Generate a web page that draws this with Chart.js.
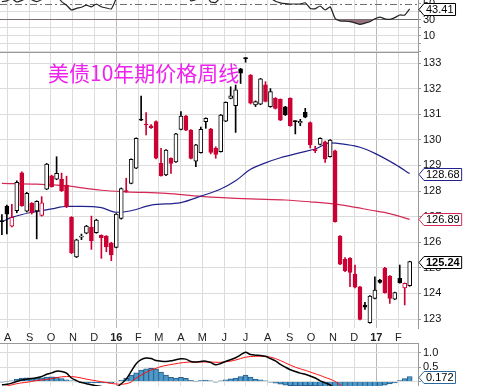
<!DOCTYPE html>
<html>
<head>
<meta charset="utf-8">
<script src="https://cdn.jsdelivr.net/npm/chart.js@4.4.1/dist/chart.umd.min.js"></script>
<style>
  body { margin: 0; background: #fff; }
  #wrap { position: relative; width: 499px; height: 386px; overflow: hidden; }
  canvas { position: absolute; left: 0; }
  #title { position: absolute; left: 48px; top: 62px; font-size: 21px; font-family: 'Noto Sans CJK SC', sans-serif; line-height: 1; color: #ee22ee; white-space: nowrap; }
</style>
</head>
<body>
<div id="wrap">
  <canvas id="rsi" width="499" height="52" style="top:0"></canvas>
  <canvas id="main" width="499" height="291" style="top:52px"></canvas>
  <canvas id="macd" width="499" height="43" style="top:343px"></canvas>
  <div id="title">美债10年期价格周线</div>
</div>
<script>
// weekly candles, first week ends 2015-07-24
const open = [
  126.85, 127.41, 126.63, 127.23, 128.71, 127.21, 127.52, 127.22, 127.05, 128.07,
  128.59, 128.46, 128.46, 128.23, 126.97, 125.43, 126.20, 126.35, 126.58, 126.37,
  126.27, 126.24, 125.96, 125.80, 126.93, 128.02, 128.30, 128.89, 130.79, 130.60,
  130.55, 130.71, 129.08, 128.63, 129.28, 129.14, 130.41, 130.93, 130.38, 129.17,
  129.50, 130.71, 130.42, 129.67, 129.54, 130.73, 131.62, 131.33, 132.77, 133.19,
  132.53, 131.36, 131.39, 132.15, 131.29, 131.62, 131.58, 131.29, 131.62, 130.73,
  130.66, 131.07, 130.67, 129.62, 129.82, 129.92, 129.34, 129.57, 126.24, 125.33,
  125.37, 124.76, 124.26, 123.55, 122.86, 123.81, 124.52, 124.98, 124.68, 123.78,
  124.59, 124.22, 124.30
];
const high = [
  127.08, 127.45, 127.48, 128.40, 128.75, 127.95, 127.55, 127.62, 127.78, 129.08,
  128.62, 129.34, 128.70, 128.58, 127.00, 126.12, 126.32, 126.66, 127.02, 126.90,
  126.29, 126.26, 126.00, 127.12, 128.12, 128.50, 129.26, 130.08, 131.71, 131.06,
  130.60, 130.74, 129.67, 129.62, 129.30, 130.25, 131.10, 130.96, 130.40, 129.82,
  130.50, 130.86, 130.45, 129.73, 130.99, 131.48, 132.07, 132.14, 132.79, 133.21,
  132.55, 131.52, 132.40, 132.27, 132.00, 131.65, 131.60, 131.31, 131.64, 130.75,
  130.80, 131.23, 130.70, 129.75, 130.08, 129.95, 130.01, 129.60, 126.26, 125.40,
  125.40, 125.11, 124.28, 123.65, 123.92, 124.65, 124.55, 125.02, 124.70, 124.05,
  125.11, 124.41, 125.26
];
const low = [
  126.30, 126.32, 126.60, 127.15, 127.40, 127.18, 127.10, 126.13, 127.02, 128.05,
  128.15, 128.44, 127.98, 127.35, 125.55, 125.40, 126.10, 126.33, 125.72, 126.35,
  125.37, 125.63, 125.28, 125.78, 126.90, 127.95, 128.28, 128.87, 130.75, 130.19,
  130.45, 129.25, 128.58, 128.60, 128.69, 129.12, 130.39, 130.36, 129.25, 128.95,
  129.48, 130.45, 129.45, 129.28, 129.52, 130.71, 131.60, 130.29, 132.20, 133.03,
  131.40, 131.30, 131.37, 131.48, 131.27, 131.20, 130.75, 130.95, 130.53, 130.23,
  130.55, 130.86, 129.68, 129.50, 129.80, 129.12, 129.32, 126.78, 125.12, 124.85,
  124.26, 124.22, 122.97, 123.38, 122.84, 123.79, 124.40, 124.01, 123.61, 123.76,
  124.40, 123.55, 124.28
];
const close = [
  126.80, 127.10, 126.97, 128.34, 127.43, 127.91, 127.15, 127.60, 127.54, 129.05,
  128.17, 128.69, 128.01, 127.39, 125.59, 126.09, 126.22, 126.63, 126.06, 126.87,
  126.18, 125.82, 125.50, 127.10, 128.10, 127.98, 129.24, 130.06, 130.77, 130.58,
  130.47, 129.28, 128.60, 129.60, 129.08, 130.23, 130.93, 130.38, 129.27, 129.80,
  130.41, 130.84, 129.51, 129.43, 130.97, 131.46, 131.72, 131.95, 132.60, 133.17,
  131.43, 131.49, 132.38, 131.50, 131.88, 131.23, 130.77, 130.97, 130.55, 130.71,
  130.72, 130.88, 129.80, 129.58, 130.06, 129.25, 129.99, 126.80, 125.14, 124.89,
  124.82, 124.24, 122.99, 123.46, 123.90, 124.13, 124.43, 124.03, 123.81, 124.03,
  124.42, 124.39, 125.24
];

// moving averages (week index, value)
const blueMaWeek = [0, 2, 6, 10, 13, 16, 20, 23, 26, 30, 36, 40, 44, 47, 50, 53, 56, 60, 63, 66, 69, 72, 75, 79, 82];
const blueMa = [126.80, 126.97, 127.17, 127.30, 127.40, 127.40, 127.35, 127.17, 127.23, 127.45, 127.55, 127.80, 128.08,
  128.40, 128.85, 129.10, 129.30, 129.50, 129.64, 129.88, 129.82, 129.71, 129.47, 129.05, 128.68];
const redMaWeek = [0, 7, 13, 20, 25, 33, 40, 50, 57, 62, 67, 70, 74, 78, 82];
const redMa = [128.30, 128.27, 128.20, 128.03, 127.97, 127.91, 127.79, 127.69, 127.65, 127.58, 127.49, 127.40, 127.26, 127.12, 126.89];

const rsi = [
  52.4, 53.5, 56, 52, 54, 57, 55, 52.5, 55, 60,
  57, 60, 52.5, 48, 42, 44, 45.5, 48, 46, 49.5,
  46, 44.5, 43.3, 56, 62, 61, 65, 69, 72, 71,
  70, 63, 58, 62, 60, 64, 67, 65, 53.5, 55,
  59, 61, 52, 51.5, 58, 63, 65, 67, 72, 74,
  66, 65, 68, 62, 57, 53, 51, 50, 49.5, 49.5,
  49.5, 51, 44, 43.5, 47, 42, 46, 31.6, 28.5, 28,
  27.4, 26, 24, 25.5, 27.4, 31, 33, 31, 30.4, 32.5,
  35.8, 35.6, 43.41
];
const macd = [
  -0.12, -0.10, -0.06, 0.00, 0.05, 0.08, 0.10, 0.13, 0.17, 0.25,
  0.30, 0.36, 0.35, 0.29, 0.12, 0.03, -0.04, -0.08, -0.12, -0.15,
  -0.18, -0.22, -0.26, -0.20, -0.08, 0.08, 0.35, 0.62, 0.76, 0.82,
  0.80, 0.73, 0.71, 0.70, 0.72, 0.76, 0.79, 0.78, 0.70, 0.68,
  0.70, 0.71, 0.66, 0.58, 0.63, 0.70, 0.76, 0.83, 0.93, 1.02,
  0.94, 0.92, 0.91, 0.88, 0.80, 0.72, 0.60, 0.50, 0.41, 0.35,
  0.29, 0.25, 0.19, 0.12, 0.02, -0.05, -0.12, -0.28, -0.45, -0.62,
  -0.78, -0.92, -1.08, -1.18, -1.22, -1.22, -1.20, -1.20, -1.20, -1.18,
  -1.12, -1.04, -0.95
];
const signal = [
  -0.20, -0.16, -0.12, -0.08, -0.05, -0.03, 0.00, 0.03, 0.05, 0.07,
  0.10, 0.13, 0.16, 0.17, 0.17, 0.15, 0.12, 0.08, 0.05, 0.02,
  -0.01, -0.04, -0.07, -0.09, -0.10, -0.08, -0.02, 0.12, 0.22, 0.32,
  0.40, 0.46, 0.52, 0.56, 0.59, 0.62, 0.65, 0.67, 0.68, 0.68,
  0.68, 0.68, 0.68, 0.67, 0.67, 0.69, 0.71, 0.75, 0.80, 0.85,
  0.87, 0.88, 0.88, 0.87, 0.85, 0.80, 0.73, 0.65, 0.57, 0.50,
  0.44, 0.39, 0.33, 0.27, 0.21, 0.14, 0.08, 0.00, -0.12, -0.26,
  -0.40, -0.54, -0.68, -0.80, -0.90, -0.98, -1.03, -1.07, -1.10, -1.12,
  -1.13, -1.13, -1.12
];
const hist = [
  -0.03, -0.01, 0.02, 0.08, 0.12, 0.13, 0.12, 0.12, 0.13, 0.15,
  0.16, 0.15, 0.10, 0.06, 0.02, -0.02, -0.04, -0.04, -0.05, -0.04,
  -0.05, -0.05, -0.06, -0.02, 0.05, 0.12, 0.22, 0.30, 0.40, 0.44,
  0.46, 0.43, 0.33, 0.22, 0.14, 0.12, 0.14, 0.11, 0.04, 0.01,
  0.03, 0.05, 0.02, -0.03, 0.02, 0.06, 0.09, 0.12, 0.17, 0.22,
  0.15, 0.08, 0.06, 0.02, -0.03, -0.06, -0.10, -0.13, -0.15, -0.16,
  -0.16, -0.15, -0.15, -0.16, -0.17, -0.18, -0.19, -0.25, -0.32, -0.36,
  -0.38, -0.38, -0.38, -0.35, -0.30, -0.24, -0.18, -0.13, -0.09, -0.05,
  0.03, 0.10, 0.172
];

const monthLabels = ['A', 'S', 'O', 'N', 'D', '16', 'F', 'M', 'A', 'M', 'J', 'J', 'A', 'S', 'O', 'N', 'D', '17', 'F'];
const priceTicks = [123, 124, 125, 126, 127, 128, 129, 130, 131, 132, 133];
const rsiLabels = [50, 30, 10];

const RED = '#cc0033';
const firstWeek = Date.UTC(2015, 6, 24);
const monthPos = monthLabels.map((l, k) => (Date.UTC(2015, 7 + k, 1) - firstWeek) / (7 * 864e5));
const xMin = -0.38, xMax = 83.67;

Chart.defaults.font.family = 'Liberation Sans, Arial, sans-serif';
Chart.defaults.font.size = 11;
Chart.defaults.color = '#111';

const lineCol = close.map((c, i) => (i > 0 && c < close[i - 1]) ? RED : '#000');
const fillCol = close.map((c, i) => c >= open[i] ? '#fff' : lineCol[i]);
const pts = arr => arr.map((v, i) => ({ x: i, y: v }));

function xScale(showLabels) {
  return {
    type: 'linear', min: xMin, max: xMax, offset: false,
    afterBuildTicks: s => { s.ticks = monthPos.map(v => ({ value: v })); },
    afterFit: s => { s.height = showLabels ? 15 : 0; s.paddingLeft = 0; s.paddingRight = 0; },
    grid: { offset: false, drawTicks: false, color: c => /\d/.test(monthLabels[c.index] || '') ? '#b8b8b8' : '#dcdcdc' },
    border: { display: false },
    ticks: {
      display: showLabels, autoSkip: false, maxRotation: 0, padding: 3, color: '#222',
      font: c => ({ size: 11, weight: /\d/.test(monthLabels[c.index] || '') ? 'bold' : 'normal' }),
      callback: (v, i) => monthLabels[i]
    }
  };
}

function yScale(extra) {
  return Object.assign({
    position: 'right',
    afterFit: s => { s.width = 81; s.paddingTop = 0; s.paddingBottom = 0; },
    border: { color: '#9a9a9a' },
    grid: { color: '#dcdcdc', tickLength: 3, tickColor: '#9a9a9a' },
    ticks: { autoSkip: false, padding: 2, color: '#111', font: { size: 11 } }
  }, extra);
}

// panel borders
const frame = {
  id: 'frame',
  afterDraw(ch, args, opts) {
    const a = ch.chartArea, c = ch.ctx;
    c.save();
    c.strokeStyle = '#9a9a9a';
    c.lineWidth = 1;
    c.beginPath();
    if (opts.top) { c.moveTo(a.left, a.top + 0.5); c.lineTo(a.right, a.top + 0.5); }
    if (opts.bottom) { c.moveTo(a.left, a.bottom - 0.5); c.lineTo(a.right, a.bottom - 0.5); }
    c.stroke();
    c.restore();
  }
};

// dash-dot midline of the RSI panel
const midLine = {
  id: 'midLine',
  beforeDatasetsDraw(ch, args, opts) {
    if (opts.value === undefined) return;
    const a = ch.chartArea, c = ch.ctx;
    const y = Math.round(ch.scales.y.getPixelForValue(opts.value)) + 0.5;
    c.save();
    c.strokeStyle = '#707070';
    c.setLineDash([7, 3, 2, 3]);
    c.beginPath(); c.moveTo(a.left, y); c.lineTo(a.right, y); c.stroke();
    c.restore();
  }
};

// last-value tags at the right axis
const tags = {
  id: 'tags',
  afterDraw(ch, args, opts) {
    const c = ch.ctx, x0 = ch.chartArea.right + 1;
    (opts.list || []).forEach(t => {
      const y = Math.round(ch.scales.y.getPixelForValue(t.value)) + 0.5;
      c.save();
      c.font = (t.bold ? 'bold ' : '') + '11px Liberation Sans, Arial';
      const w = c.measureText(t.text).width + 4;
      c.beginPath();
      c.moveTo(x0, y);
      c.lineTo(x0 + 5, y - 6);
      c.lineTo(x0 + 5 + w, y - 6);
      c.lineTo(x0 + 5 + w, y + 6);
      c.lineTo(x0 + 5, y + 6);
      c.closePath();
      c.fillStyle = '#fff';
      c.fill();
      c.strokeStyle = t.color;
      c.lineWidth = 1;
      c.stroke();
      c.fillStyle = '#000';
      c.textBaseline = 'middle';
      c.fillText(t.text, x0 + 7, y + 0.5);
      c.restore();
    });
  }
};

const common = {
  responsive: false, animation: false, devicePixelRatio: 1, events: [],
  layout: { padding: 0 },
  plugins: { legend: { display: false }, tooltip: { enabled: false } }
};

new Chart(document.getElementById('rsi'), {
  type: 'line',
  data: {
    datasets: [{
      data: pts(rsi), borderColor: '#222', borderWidth: 1.2, pointRadius: 0, tension: 0.15,
      fill: { target: { value: 30 }, above: 'rgba(0,0,0,0)', below: '#94737d' }
    }]
  },
  options: Object.assign({}, common, {
    scales: {
      x: xScale(false),
      y: yScale({
        min: -10.5, max: 54.5,
        grid: { color: c => c.tick && c.tick.value === 30 ? '#6e6e6e' : (c.tick && c.tick.value === 50 ? 'rgba(0,0,0,0)' : '#dcdcdc'), tickLength: 3, tickColor: '#9a9a9a' },
        ticks: { autoSkip: false, stepSize: 10, padding: 2, includeBounds: false, callback: v => rsiLabels.includes(v) ? v : '' }
      })
    },
    plugins: Object.assign({}, common.plugins, {
      frame: {},
      midLine: { value: 50 },
      tags: { list: [{ value: rsi[rsi.length - 1], text: rsi[rsi.length - 1].toFixed(2), color: '#000' }] }
    })
  }),
  plugins: [frame, midLine, tags]
});

new Chart(document.getElementById('main'), {
  type: 'bar',
  data: {
    datasets: [
      { type: 'line', data: blueMaWeek.map((w, k) => ({ x: w, y: blueMa[k] })), borderColor: '#22228c', borderWidth: 1.2, pointRadius: 0, cubicInterpolationMode: 'monotone', order: 3 },
      { type: 'line', data: redMaWeek.map((w, k) => ({ x: w, y: redMa[k] })), borderColor: '#d42a55', borderWidth: 1.2, pointRadius: 0, cubicInterpolationMode: 'monotone', order: 4 },
      { data: low.map((l, i) => ({ x: i, y: [l, high[i]] })), backgroundColor: lineCol, barThickness: 1, minBarLength: 1, grouped: false, order: 2 },
      { data: open.map((o, i) => ({ x: i, y: [o, close[i]] })), backgroundColor: fillCol, borderColor: lineCol, borderWidth: 1, borderSkipped: false, barThickness: 4, minBarLength: 1, grouped: false, order: 1 }
    ]
  },
  options: Object.assign({}, common, {
    scales: {
      x: xScale(true),
      y: yScale({
        min: 122.65, max: 133.43,
        afterBuildTicks: s => { s.ticks = priceTicks.map(v => ({ value: v })); },
        afterFit: s => { s.width = 81; s.paddingTop = 0; s.paddingBottom = 0; }
      })
    },
    plugins: Object.assign({}, common.plugins, {
      frame: { top: true },
      tags: { list: [
        { value: blueMa[blueMa.length - 1], text: blueMa[blueMa.length - 1].toFixed(2), color: '#22228c' },
        { value: redMa[redMa.length - 1], text: redMa[redMa.length - 1].toFixed(2), color: '#d42a55' },
        { value: close[close.length - 1], text: close[close.length - 1].toFixed(2), color: '#000', bold: true }
      ] }
    })
  }),
  plugins: [frame, tags]
});

new Chart(document.getElementById('macd'), {
  type: 'bar',
  data: {
    datasets: [
      { type: 'line', data: pts(macd), borderColor: '#000', borderWidth: 1.5, pointRadius: 0, tension: 0.3, order: 1 },
      { type: 'line', data: pts(signal), borderColor: '#ff1010', borderWidth: 1, pointRadius: 0, tension: 0.3, order: 2 },
      { data: pts(hist), backgroundColor: '#4a9acb', borderColor: '#2a5d88', borderWidth: 1, barThickness: 5, grouped: false, order: 3 }
    ]
  },
  options: Object.assign({}, common, {
    scales: {
      x: xScale(false),
      y: yScale({
        min: -0.16, max: 1.345,
        ticks: { autoSkip: false, stepSize: 0.5, padding: 2, includeBounds: false, callback: v => v.toFixed(1) }
      })
    },
    plugins: Object.assign({}, common.plugins, {
      frame: { top: true },
      tags: { list: [{ value: hist[hist.length - 1], text: hist[hist.length - 1].toFixed(3), color: '#2a6aa0' }] }
    })
  }),
  plugins: [frame, tags]
});
</script>
</body>
</html>
